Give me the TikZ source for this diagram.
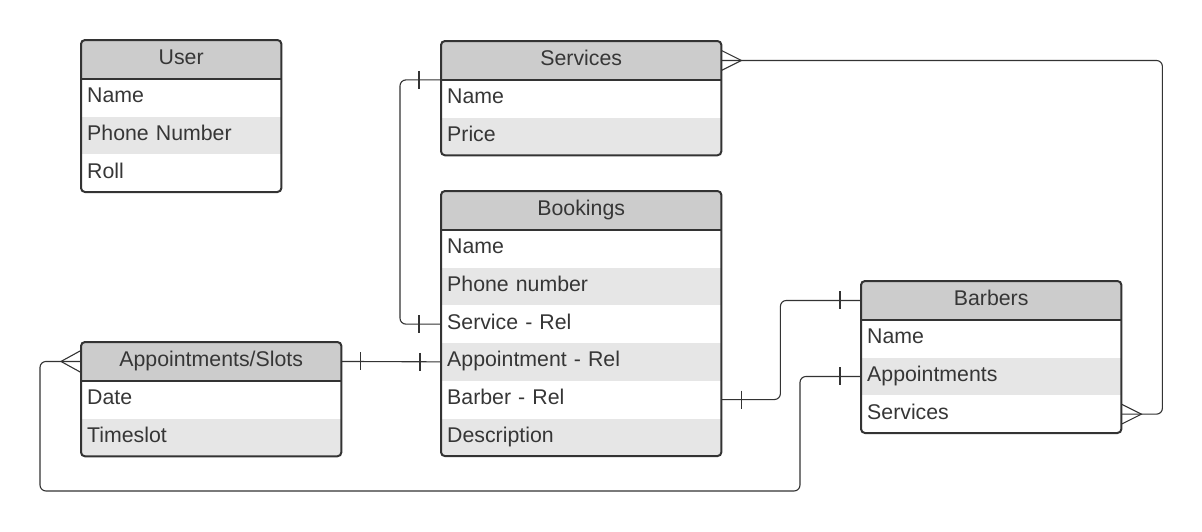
\documentclass[tikz,border=0pt]{standalone}
\usepackage{fontspec}
\setmainfont{Liberation Sans}
\usetikzlibrary{calc, positioning}

\definecolor{hdrgrey}{HTML}{CCCCCC}
\definecolor{rowgrey}{HTML}{E6E6E6}
\definecolor{edge}{HTML}{333333}
\definecolor{txt}{HTML}{363636}

\begin{document}
\begin{tikzpicture}[x=1pt, y=-1pt, node distance=0pt,
   every node/.style={font=\fontsize{21.3}{25}\selectfont, text=txt},
   hdr/.style={anchor=north west, fill=hdrgrey, minimum height=38.5pt, inner xsep=6pt, inner ysep=0pt, text height=15pt, text depth=5pt, text width=#1, align=center},
   row/.style={minimum height=37.3pt, inner xsep=6pt, inner ysep=0pt, text height=15pt, text depth=5pt, text width=#1, align=left},
   shade/.style={fill=rowgrey},
   frame/.style={draw=edge, line width=2pt, rounded corners=4pt},
   conn/.style={draw=edge, line width=1.1pt, rounded corners=6pt},
   foot/.style={draw=edge, line width=1.1pt}]
   \useasboundingbox (0,0) rectangle (1202,531);

   % User
   \node[hdr=188pt] (userHdr) at (81,40) {User};
   \node[row=188pt] (userName) [below=of userHdr] {Name};
   \node[row=188pt, shade] (userPhone) [below=of userName] {Phone Number};
   \node[row=188pt] (userRoll) [below=of userPhone] {Roll};
   \draw[frame] (userHdr.north west) rectangle (userRoll.south east);
   \draw[frame] (userHdr.south west) -- (userHdr.south east);

   % Services
   \node[hdr=268pt] (servHdr) at (441,41) {Services};
   \node[row=268pt] (servName) [below=of servHdr] {Name};
   \node[row=268pt, shade] (servPrice) [below=of servName] {Price};
   \draw[frame] (servHdr.north west) rectangle (servPrice.south east);
   \draw[frame] (servHdr.south west) -- (servHdr.south east);

   % Bookings
   \node[hdr=268pt] (bookHdr) at (441,191) {Bookings};
   \node[row=268pt] (bookName) [below=of bookHdr] {Name};
   \node[row=268pt, shade] (bookPhone) [below=of bookName] {Phone number};
   \node[row=268pt] (bookService) [below=of bookPhone] {Service - Rel};
   \node[row=268pt, shade] (bookAppt) [below=of bookService] {Appointment - Rel};
   \node[row=268pt] (bookBarber) [below=of bookAppt] {Barber - Rel};
   \node[row=268pt, shade] (bookDesc) [below=of bookBarber] {Description};
   \draw[frame] (bookHdr.north west) rectangle (bookDesc.south east);
   \draw[frame] (bookHdr.south west) -- (bookHdr.south east);

   % Appointments/Slots
   \node[hdr=248pt] (appHdr) at (81,342) {Appointments/Slots};
   \node[row=248pt] (appDate) [below=of appHdr] {Date};
   \node[row=248pt, shade] (appSlot) [below=of appDate] {Timeslot};
   \draw[frame] (appHdr.north west) rectangle (appSlot.south east);
   \draw[frame] (appHdr.south west) -- (appHdr.south east);

   % Barbers
   \node[hdr=248pt] (barbHdr) at (861,281) {Barbers};
   \node[row=248pt] (barbName) [below=of barbHdr] {Name};
   \node[row=248pt, shade] (barbAppt) [below=of barbName] {Appointments};
   \node[row=248pt] (barbServ) [below=of barbAppt] {Services};
   \draw[frame] (barbHdr.north west) rectangle (barbServ.south east);
   \draw[frame] (barbHdr.south west) -- (barbHdr.south east);

   % relations
   \draw[conn] (servHdr.south west) -- ++(-41,0) |- (bookService.west);
   \draw[foot] ([xshift=-22pt]servHdr.south west) ++(0,-9) -- ++(0,18);
   \draw[foot] ([xshift=-22pt]bookService.west) ++(0,-9) -- ++(0,18);

   \draw[conn] (appHdr.east) -- (bookAppt.west);
   \draw[foot] ([xshift=19pt]appHdr.east) ++(0,-9) -- ++(0,18);
   \draw[foot] ([xshift=-21pt]bookAppt.west) ++(0,-9) -- ++(0,18);

   \draw[conn] (bookBarber.east) -- ++(59,0) |- (barbHdr.west);
   \draw[foot] ([xshift=20pt]bookBarber.east) ++(0,-9) -- ++(0,18);
   \draw[foot] ([xshift=-21pt]barbHdr.west) ++(0,-9) -- ++(0,18);

   \draw[conn] (barbAppt.west) -- ++(-61,0) |- (40,491) |- (appHdr.west);
   \draw[foot] ([xshift=-21pt]barbAppt.west) ++(0,-9) -- ++(0,18);
   \draw[foot] ([yshift=11pt]appHdr.west) -- ++(-20,11) -- ++(20,11);

   \draw[conn] (servHdr.east) -| ($(barbServ.east)+(41,0)$) -- (barbServ.east);
   \draw[foot] ([yshift=10pt]servHdr.east) -- ++(20,10) -- ++(-20,10);
   \draw[foot] ([yshift=10pt]barbServ.east) -- ++(20,10) -- ++(-20,10);
\end{tikzpicture}
\end{document}
